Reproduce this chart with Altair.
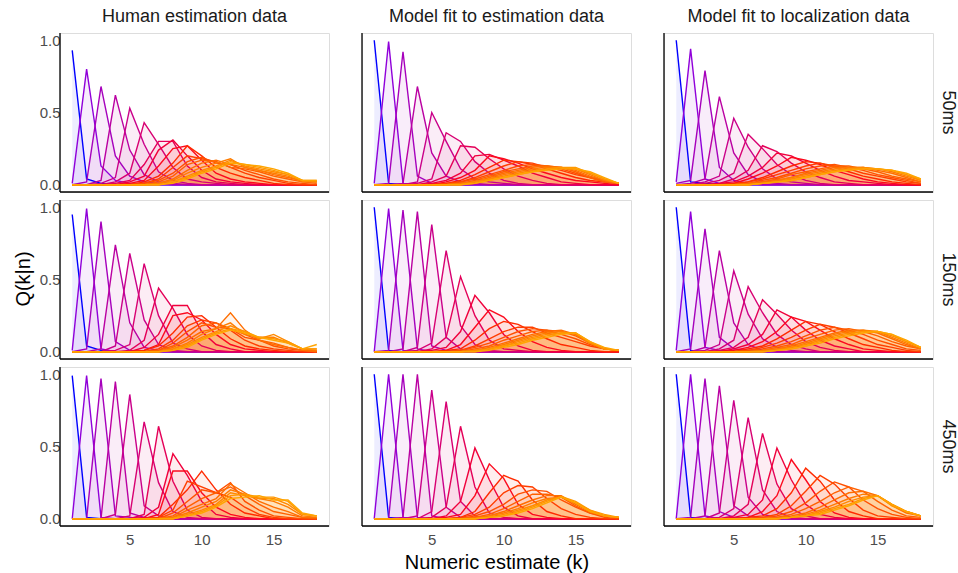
import altair as alt
import pandas as pd

K = list(range(1, 19))
N = list(range(1, 19))
panels = ["Human estimation data", "Model fit to estimation data", "Model fit to localization data"]
times = ["50ms", "150ms", "450ms"]

colors = ["#0000FF", "#9000DA", "#A600BC", "#BA00A2", "#CA008A", "#D80072", "#E40058", "#F0003C",
          "#FC0A1E", "#FF2A00", "#FF3E00", "#FF5000", "#FF6000", "#FF6E00", "#FF7C00", "#FF8A00",
          "#FF9800", "#FFA500"]

human_50ms = [
    [0.93, 0.04, 0.01, 0, 0, 0, 0, 0, 0, 0, 0, 0, 0, 0, 0, 0, 0, 0],
    [0.01, 0.80, 0.13, 0.03, 0.01, 0, 0, 0, 0, 0, 0, 0, 0, 0, 0, 0, 0, 0],
    [0, 0.02, 0.68, 0.20, 0.06, 0.02, 0.01, 0, 0, 0, 0, 0, 0, 0, 0, 0, 0, 0],
    [0, 0, 0.03, 0.62, 0.24, 0.07, 0.02, 0.01, 0, 0, 0, 0, 0, 0, 0, 0, 0, 0],
    [0, 0, 0.01, 0.05, 0.53, 0.28, 0.09, 0.03, 0.01, 0, 0, 0, 0, 0, 0, 0, 0, 0],
    [0, 0, 0, 0.02, 0.08, 0.43, 0.28, 0.12, 0.04, 0.02, 0.01, 0, 0, 0, 0, 0, 0, 0],
    [0, 0, 0, 0.01, 0.03, 0.14, 0.30, 0.30, 0.13, 0.05, 0.02, 0.01, 0, 0, 0, 0, 0, 0],
    [0, 0, 0, 0, 0.02, 0.06, 0.24, 0.31, 0.20, 0.10, 0.04, 0.02, 0.01, 0, 0, 0, 0, 0],
    [0, 0, 0, 0, 0.01, 0.03, 0.13, 0.25, 0.27, 0.17, 0.08, 0.04, 0.02, 0.01, 0, 0, 0, 0],
    [0, 0, 0, 0, 0, 0.02, 0.06, 0.15, 0.27, 0.20, 0.12, 0.08, 0.05, 0.03, 0.01, 0, 0, 0],
    [0, 0, 0, 0, 0, 0.01, 0.04, 0.12, 0.20, 0.18, 0.16, 0.12, 0.08, 0.05, 0.03, 0.01, 0, 0],
    [0, 0, 0, 0, 0, 0.01, 0.03, 0.08, 0.16, 0.19, 0.15, 0.14, 0.10, 0.07, 0.04, 0.02, 0.01, 0],
    [0, 0, 0, 0, 0, 0, 0.02, 0.06, 0.14, 0.17, 0.16, 0.12, 0.11, 0.09, 0.06, 0.04, 0.02, 0.01],
    [0, 0, 0, 0, 0, 0, 0.01, 0.04, 0.10, 0.15, 0.17, 0.14, 0.12, 0.10, 0.07, 0.05, 0.03, 0.02],
    [0, 0, 0, 0, 0, 0, 0.01, 0.03, 0.08, 0.12, 0.15, 0.18, 0.12, 0.10, 0.08, 0.06, 0.02, 0.02],
    [0, 0, 0, 0, 0, 0, 0, 0.02, 0.06, 0.10, 0.13, 0.17, 0.13, 0.11, 0.09, 0.07, 0.03, 0.02],
    [0, 0, 0, 0, 0, 0, 0, 0.02, 0.05, 0.09, 0.12, 0.16, 0.14, 0.12, 0.10, 0.07, 0.03, 0.03],
    [0, 0, 0, 0, 0, 0, 0, 0.01, 0.04, 0.08, 0.11, 0.15, 0.14, 0.13, 0.11, 0.08, 0.03, 0.03],
]

human_150ms = [
    [0.95, 0.04, 0.01, 0, 0, 0, 0, 0, 0, 0, 0, 0, 0, 0, 0, 0, 0, 0],
    [0.01, 0.99, 0.02, 0, 0, 0, 0, 0, 0, 0, 0, 0, 0, 0, 0, 0, 0, 0],
    [0, 0.02, 0.90, 0.07, 0.01, 0, 0, 0, 0, 0, 0, 0, 0, 0, 0, 0, 0, 0],
    [0, 0, 0.02, 0.74, 0.20, 0.03, 0.01, 0, 0, 0, 0, 0, 0, 0, 0, 0, 0, 0],
    [0, 0, 0, 0.04, 0.68, 0.22, 0.05, 0.01, 0, 0, 0, 0, 0, 0, 0, 0, 0, 0],
    [0, 0, 0, 0.01, 0.05, 0.61, 0.25, 0.06, 0.02, 0, 0, 0, 0, 0, 0, 0, 0, 0],
    [0, 0, 0, 0, 0.01, 0.08, 0.44, 0.30, 0.12, 0.04, 0.01, 0, 0, 0, 0, 0, 0, 0],
    [0, 0, 0, 0, 0, 0.03, 0.12, 0.32, 0.32, 0.14, 0.05, 0.02, 0, 0, 0, 0, 0, 0],
    [0, 0, 0, 0, 0, 0.01, 0.05, 0.25, 0.27, 0.22, 0.12, 0.05, 0.02, 0.01, 0, 0, 0, 0],
    [0, 0, 0, 0, 0, 0.01, 0.04, 0.13, 0.24, 0.25, 0.17, 0.09, 0.04, 0.02, 0.01, 0, 0, 0],
    [0, 0, 0, 0, 0, 0, 0.02, 0.08, 0.18, 0.22, 0.20, 0.15, 0.08, 0.04, 0.02, 0.01, 0, 0],
    [0, 0, 0, 0, 0, 0, 0.01, 0.06, 0.14, 0.20, 0.17, 0.16, 0.10, 0.08, 0.04, 0.02, 0.01, 0],
    [0, 0, 0, 0, 0, 0, 0.01, 0.04, 0.10, 0.18, 0.20, 0.16, 0.12, 0.08, 0.06, 0.03, 0.01, 0.01],
    [0, 0, 0, 0, 0, 0, 0, 0.03, 0.08, 0.14, 0.16, 0.27, 0.15, 0.08, 0.05, 0.03, 0.01, 0],
    [0, 0, 0, 0, 0, 0, 0, 0.02, 0.06, 0.12, 0.16, 0.20, 0.12, 0.10, 0.10, 0.06, 0.02, 0.01],
    [0, 0, 0, 0, 0, 0, 0, 0.02, 0.05, 0.10, 0.14, 0.18, 0.14, 0.09, 0.12, 0.07, 0.02, 0.02],
    [0, 0, 0, 0, 0, 0, 0, 0.01, 0.04, 0.09, 0.13, 0.16, 0.14, 0.10, 0.09, 0.07, 0.02, 0.02],
    [0, 0, 0, 0, 0, 0, 0, 0.01, 0.03, 0.08, 0.12, 0.15, 0.13, 0.10, 0.08, 0.06, 0.02, 0.05],
]

human_450ms = [
    [0.99, 0.01, 0, 0, 0, 0, 0, 0, 0, 0, 0, 0, 0, 0, 0, 0, 0, 0],
    [0, 0.99, 0.01, 0, 0, 0, 0, 0, 0, 0, 0, 0, 0, 0, 0, 0, 0, 0],
    [0, 0, 0.97, 0.02, 0.01, 0, 0, 0, 0, 0, 0, 0, 0, 0, 0, 0, 0, 0],
    [0, 0, 0, 0.95, 0.04, 0.01, 0, 0, 0, 0, 0, 0, 0, 0, 0, 0, 0, 0],
    [0, 0, 0, 0.03, 0.86, 0.09, 0.02, 0, 0, 0, 0, 0, 0, 0, 0, 0, 0, 0],
    [0, 0, 0, 0, 0.02, 0.67, 0.25, 0.05, 0.01, 0, 0, 0, 0, 0, 0, 0, 0, 0],
    [0, 0, 0, 0, 0, 0.03, 0.64, 0.26, 0.06, 0.01, 0, 0, 0, 0, 0, 0, 0, 0],
    [0, 0, 0, 0, 0, 0.01, 0.08, 0.45, 0.30, 0.12, 0.03, 0.01, 0, 0, 0, 0, 0, 0],
    [0, 0, 0, 0, 0, 0, 0.03, 0.33, 0.33, 0.18, 0.08, 0.03, 0.01, 0, 0, 0, 0, 0],
    [0, 0, 0, 0, 0, 0, 0.01, 0.10, 0.20, 0.33, 0.20, 0.10, 0.04, 0.02, 0, 0, 0, 0],
    [0, 0, 0, 0, 0, 0, 0.01, 0.06, 0.26, 0.22, 0.18, 0.15, 0.08, 0.03, 0.01, 0, 0, 0],
    [0, 0, 0, 0, 0, 0, 0, 0.04, 0.12, 0.20, 0.18, 0.25, 0.12, 0.06, 0.02, 0.01, 0, 0],
    [0, 0, 0, 0, 0, 0, 0, 0.02, 0.08, 0.14, 0.18, 0.22, 0.16, 0.10, 0.05, 0.03, 0.01, 0],
    [0, 0, 0, 0, 0, 0, 0, 0.01, 0.06, 0.10, 0.14, 0.24, 0.18, 0.12, 0.08, 0.05, 0.01, 0.01],
    [0, 0, 0, 0, 0, 0, 0, 0.01, 0.04, 0.08, 0.12, 0.20, 0.17, 0.14, 0.12, 0.08, 0.02, 0.01],
    [0, 0, 0, 0, 0, 0, 0, 0, 0.03, 0.06, 0.10, 0.18, 0.16, 0.14, 0.14, 0.10, 0.03, 0.02],
    [0, 0, 0, 0, 0, 0, 0, 0, 0.02, 0.05, 0.09, 0.16, 0.17, 0.15, 0.15, 0.12, 0.03, 0.02],
    [0, 0, 0, 0, 0, 0, 0, 0, 0.02, 0.04, 0.08, 0.14, 0.15, 0.16, 0.13, 0.13, 0.04, 0.02],
]

model_est_50ms = [
    [1.00, 0.01, 0, 0, 0, 0, 0, 0, 0, 0, 0, 0, 0, 0, 0, 0, 0, 0],
    [0.01, 0.99, 0.01, 0, 0, 0, 0, 0, 0, 0, 0, 0, 0, 0, 0, 0, 0, 0],
    [0, 0.01, 0.92, 0.06, 0.01, 0, 0, 0, 0, 0, 0, 0, 0, 0, 0, 0, 0, 0],
    [0, 0, 0.01, 0.68, 0.22, 0.06, 0.02, 0.01, 0, 0, 0, 0, 0, 0, 0, 0, 0, 0],
    [0, 0, 0, 0.02, 0.50, 0.30, 0.11, 0.04, 0.02, 0.01, 0, 0, 0, 0, 0, 0, 0, 0],
    [0, 0, 0, 0.01, 0.04, 0.36, 0.30, 0.16, 0.08, 0.03, 0.01, 0, 0, 0, 0, 0, 0, 0],
    [0, 0, 0, 0, 0.02, 0.06, 0.27, 0.26, 0.18, 0.11, 0.06, 0.03, 0.01, 0, 0, 0, 0, 0],
    [0, 0, 0, 0, 0.01, 0.03, 0.08, 0.20, 0.21, 0.17, 0.13, 0.08, 0.05, 0.02, 0.01, 0, 0, 0],
    [0, 0, 0, 0, 0, 0.02, 0.05, 0.10, 0.20, 0.18, 0.15, 0.11, 0.08, 0.05, 0.03, 0.02, 0.01, 0],
    [0, 0, 0, 0, 0, 0.01, 0.03, 0.07, 0.12, 0.17, 0.16, 0.14, 0.11, 0.08, 0.05, 0.03, 0.02, 0.01],
    [0, 0, 0, 0, 0, 0.01, 0.02, 0.05, 0.09, 0.13, 0.16, 0.15, 0.12, 0.10, 0.07, 0.05, 0.03, 0.01],
    [0, 0, 0, 0, 0, 0, 0.02, 0.04, 0.07, 0.10, 0.13, 0.14, 0.13, 0.11, 0.08, 0.05, 0.02, 0.01],
    [0, 0, 0, 0, 0, 0, 0.01, 0.03, 0.06, 0.09, 0.11, 0.13, 0.13, 0.12, 0.09, 0.05, 0.02, 0.01],
    [0, 0, 0, 0, 0, 0, 0.01, 0.02, 0.05, 0.08, 0.10, 0.12, 0.13, 0.12, 0.10, 0.06, 0.03, 0.01],
    [0, 0, 0, 0, 0, 0, 0.01, 0.02, 0.04, 0.07, 0.09, 0.11, 0.12, 0.12, 0.11, 0.07, 0.03, 0.01],
    [0, 0, 0, 0, 0, 0, 0, 0.02, 0.04, 0.06, 0.08, 0.10, 0.11, 0.12, 0.11, 0.08, 0.04, 0.01],
    [0, 0, 0, 0, 0, 0, 0, 0.01, 0.03, 0.05, 0.07, 0.09, 0.11, 0.12, 0.12, 0.08, 0.04, 0.01],
    [0, 0, 0, 0, 0, 0, 0, 0.01, 0.03, 0.05, 0.07, 0.09, 0.10, 0.11, 0.11, 0.09, 0.05, 0.01],
]

model_est_150ms = [
    [1.00, 0.01, 0, 0, 0, 0, 0, 0, 0, 0, 0, 0, 0, 0, 0, 0, 0, 0],
    [0, 0.99, 0.01, 0, 0, 0, 0, 0, 0, 0, 0, 0, 0, 0, 0, 0, 0, 0],
    [0, 0.01, 0.98, 0.02, 0, 0, 0, 0, 0, 0, 0, 0, 0, 0, 0, 0, 0, 0],
    [0, 0, 0.02, 0.97, 0.04, 0.01, 0, 0, 0, 0, 0, 0, 0, 0, 0, 0, 0, 0],
    [0, 0, 0, 0.03, 0.88, 0.10, 0.02, 0, 0, 0, 0, 0, 0, 0, 0, 0, 0, 0],
    [0, 0, 0, 0.01, 0.06, 0.70, 0.18, 0.05, 0.01, 0, 0, 0, 0, 0, 0, 0, 0, 0],
    [0, 0, 0, 0, 0.02, 0.10, 0.52, 0.25, 0.08, 0.02, 0.01, 0, 0, 0, 0, 0, 0, 0],
    [0, 0, 0, 0, 0.01, 0.03, 0.14, 0.39, 0.27, 0.12, 0.04, 0.01, 0, 0, 0, 0, 0, 0],
    [0, 0, 0, 0, 0, 0.01, 0.05, 0.17, 0.29, 0.24, 0.14, 0.07, 0.03, 0.01, 0, 0, 0, 0],
    [0, 0, 0, 0, 0, 0.01, 0.02, 0.08, 0.16, 0.21, 0.19, 0.14, 0.09, 0.05, 0.03, 0.01, 0, 0],
    [0, 0, 0, 0, 0, 0, 0.01, 0.04, 0.09, 0.14, 0.17, 0.17, 0.13, 0.10, 0.07, 0.04, 0.02, 0.01],
    [0, 0, 0, 0, 0, 0, 0.01, 0.03, 0.06, 0.10, 0.14, 0.16, 0.15, 0.12, 0.09, 0.05, 0.02, 0.01],
    [0, 0, 0, 0, 0, 0, 0, 0.02, 0.04, 0.08, 0.11, 0.14, 0.15, 0.14, 0.11, 0.06, 0.02, 0.01],
    [0, 0, 0, 0, 0, 0, 0, 0.01, 0.03, 0.06, 0.09, 0.12, 0.14, 0.15, 0.12, 0.06, 0.02, 0.01],
    [0, 0, 0, 0, 0, 0, 0, 0.01, 0.02, 0.05, 0.08, 0.11, 0.13, 0.14, 0.12, 0.06, 0.02, 0.01],
    [0, 0, 0, 0, 0, 0, 0, 0.01, 0.02, 0.04, 0.07, 0.10, 0.12, 0.13, 0.13, 0.06, 0.02, 0.01],
    [0, 0, 0, 0, 0, 0, 0, 0, 0.02, 0.04, 0.06, 0.09, 0.11, 0.13, 0.13, 0.07, 0.02, 0.01],
    [0, 0, 0, 0, 0, 0, 0, 0, 0.01, 0.03, 0.05, 0.08, 0.10, 0.12, 0.13, 0.07, 0.03, 0.01],
]

model_est_450ms = [
    [1.00, 0.01, 0, 0, 0, 0, 0, 0, 0, 0, 0, 0, 0, 0, 0, 0, 0, 0],
    [0, 1.00, 0.01, 0, 0, 0, 0, 0, 0, 0, 0, 0, 0, 0, 0, 0, 0, 0],
    [0, 0, 1.00, 0.01, 0, 0, 0, 0, 0, 0, 0, 0, 0, 0, 0, 0, 0, 0],
    [0, 0, 0.01, 1.00, 0.02, 0, 0, 0, 0, 0, 0, 0, 0, 0, 0, 0, 0, 0],
    [0, 0, 0, 0.02, 0.89, 0.08, 0.01, 0, 0, 0, 0, 0, 0, 0, 0, 0, 0, 0],
    [0, 0, 0, 0, 0.05, 0.81, 0.12, 0.02, 0, 0, 0, 0, 0, 0, 0, 0, 0, 0],
    [0, 0, 0, 0, 0.01, 0.08, 0.64, 0.22, 0.04, 0.01, 0, 0, 0, 0, 0, 0, 0, 0],
    [0, 0, 0, 0, 0, 0.02, 0.12, 0.49, 0.27, 0.08, 0.02, 0, 0, 0, 0, 0, 0, 0],
    [0, 0, 0, 0, 0, 0.01, 0.03, 0.16, 0.38, 0.28, 0.10, 0.03, 0.01, 0, 0, 0, 0, 0],
    [0, 0, 0, 0, 0, 0, 0.01, 0.05, 0.18, 0.30, 0.26, 0.13, 0.05, 0.02, 0, 0, 0, 0],
    [0, 0, 0, 0, 0, 0, 0.01, 0.03, 0.08, 0.18, 0.23, 0.22, 0.14, 0.07, 0.03, 0.01, 0, 0],
    [0, 0, 0, 0, 0, 0, 0, 0.02, 0.05, 0.10, 0.17, 0.20, 0.19, 0.13, 0.08, 0.04, 0.01, 0],
    [0, 0, 0, 0, 0, 0, 0, 0.01, 0.03, 0.07, 0.12, 0.17, 0.17, 0.15, 0.09, 0.04, 0.02, 0.01],
    [0, 0, 0, 0, 0, 0, 0, 0.01, 0.02, 0.05, 0.09, 0.13, 0.16, 0.16, 0.10, 0.05, 0.02, 0.01],
    [0, 0, 0, 0, 0, 0, 0, 0, 0.02, 0.04, 0.07, 0.11, 0.14, 0.15, 0.11, 0.05, 0.02, 0.01],
    [0, 0, 0, 0, 0, 0, 0, 0, 0.01, 0.03, 0.06, 0.09, 0.13, 0.15, 0.11, 0.06, 0.02, 0.01],
    [0, 0, 0, 0, 0, 0, 0, 0, 0.01, 0.02, 0.05, 0.08, 0.12, 0.155, 0.12, 0.06, 0.03, 0.01],
    [0, 0, 0, 0, 0, 0, 0, 0, 0.01, 0.02, 0.04, 0.07, 0.11, 0.15, 0.11, 0.05, 0.02, 0.01],
]

model_loc_50ms = [
    [1.00, 0.02, 0.01, 0, 0, 0, 0, 0, 0, 0, 0, 0, 0, 0, 0, 0, 0, 0],
    [0.02, 0.94, 0.04, 0.01, 0, 0, 0, 0, 0, 0, 0, 0, 0, 0, 0, 0, 0, 0],
    [0.01, 0.03, 0.79, 0.12, 0.03, 0.01, 0, 0, 0, 0, 0, 0, 0, 0, 0, 0, 0, 0],
    [0, 0.01, 0.04, 0.61, 0.22, 0.07, 0.02, 0.01, 0, 0, 0, 0, 0, 0, 0, 0, 0, 0],
    [0, 0, 0.02, 0.06, 0.46, 0.26, 0.11, 0.04, 0.02, 0.01, 0, 0, 0, 0, 0, 0, 0, 0],
    [0, 0, 0.01, 0.03, 0.08, 0.35, 0.25, 0.14, 0.07, 0.03, 0.01, 0, 0, 0, 0, 0, 0, 0],
    [0, 0, 0, 0.01, 0.04, 0.10, 0.27, 0.23, 0.15, 0.09, 0.05, 0.02, 0.01, 0, 0, 0, 0, 0],
    [0, 0, 0, 0.01, 0.02, 0.06, 0.12, 0.22, 0.20, 0.15, 0.10, 0.06, 0.03, 0.02, 0.01, 0, 0, 0],
    [0, 0, 0, 0, 0.01, 0.04, 0.08, 0.13, 0.19, 0.17, 0.14, 0.10, 0.07, 0.04, 0.02, 0.01, 0, 0],
    [0, 0, 0, 0, 0.01, 0.02, 0.05, 0.09, 0.13, 0.16, 0.15, 0.12, 0.09, 0.06, 0.04, 0.02, 0.01, 0],
    [0, 0, 0, 0, 0, 0.02, 0.04, 0.07, 0.10, 0.13, 0.15, 0.13, 0.11, 0.08, 0.06, 0.04, 0.02, 0.01],
    [0, 0, 0, 0, 0, 0.01, 0.03, 0.05, 0.08, 0.11, 0.13, 0.14, 0.12, 0.10, 0.07, 0.05, 0.03, 0.01],
    [0, 0, 0, 0, 0, 0.01, 0.02, 0.04, 0.07, 0.09, 0.11, 0.13, 0.13, 0.11, 0.09, 0.06, 0.04, 0.02],
    [0, 0, 0, 0, 0, 0.01, 0.02, 0.03, 0.05, 0.08, 0.10, 0.12, 0.12, 0.12, 0.10, 0.08, 0.05, 0.02],
    [0, 0, 0, 0, 0, 0, 0.01, 0.03, 0.05, 0.07, 0.09, 0.11, 0.12, 0.12, 0.11, 0.09, 0.06, 0.03],
    [0, 0, 0, 0, 0, 0, 0.01, 0.02, 0.04, 0.06, 0.08, 0.10, 0.11, 0.12, 0.11, 0.10, 0.07, 0.03],
    [0, 0, 0, 0, 0, 0, 0.01, 0.02, 0.03, 0.05, 0.07, 0.09, 0.11, 0.11, 0.11, 0.10, 0.07, 0.04],
    [0, 0, 0, 0, 0, 0, 0.01, 0.02, 0.03, 0.05, 0.07, 0.09, 0.10, 0.11, 0.11, 0.10, 0.08, 0.04],
]

model_loc_150ms = [
    [1.00, 0.01, 0, 0, 0, 0, 0, 0, 0, 0, 0, 0, 0, 0, 0, 0, 0, 0],
    [0.01, 0.97, 0.03, 0.01, 0, 0, 0, 0, 0, 0, 0, 0, 0, 0, 0, 0, 0, 0],
    [0, 0.02, 0.85, 0.10, 0.02, 0.01, 0, 0, 0, 0, 0, 0, 0, 0, 0, 0, 0, 0],
    [0, 0, 0.03, 0.70, 0.20, 0.05, 0.01, 0, 0, 0, 0, 0, 0, 0, 0, 0, 0, 0],
    [0, 0, 0.01, 0.05, 0.56, 0.26, 0.09, 0.03, 0.01, 0, 0, 0, 0, 0, 0, 0, 0, 0],
    [0, 0, 0, 0.02, 0.08, 0.45, 0.27, 0.12, 0.05, 0.02, 0, 0, 0, 0, 0, 0, 0, 0],
    [0, 0, 0, 0.01, 0.03, 0.10, 0.36, 0.26, 0.15, 0.07, 0.03, 0.01, 0, 0, 0, 0, 0, 0],
    [0, 0, 0, 0, 0.02, 0.05, 0.12, 0.29, 0.24, 0.15, 0.08, 0.04, 0.02, 0, 0, 0, 0, 0],
    [0, 0, 0, 0, 0.01, 0.03, 0.07, 0.14, 0.24, 0.21, 0.15, 0.09, 0.05, 0.02, 0.01, 0, 0, 0],
    [0, 0, 0, 0, 0, 0.02, 0.04, 0.09, 0.15, 0.21, 0.19, 0.14, 0.09, 0.05, 0.03, 0.01, 0, 0],
    [0, 0, 0, 0, 0, 0.01, 0.03, 0.06, 0.10, 0.15, 0.19, 0.17, 0.13, 0.09, 0.05, 0.03, 0.01, 0],
    [0, 0, 0, 0, 0, 0.01, 0.02, 0.04, 0.07, 0.11, 0.15, 0.17, 0.15, 0.12, 0.08, 0.05, 0.02, 0.01],
    [0, 0, 0, 0, 0, 0, 0.01, 0.03, 0.05, 0.09, 0.12, 0.15, 0.16, 0.14, 0.11, 0.07, 0.04, 0.02],
    [0, 0, 0, 0, 0, 0, 0.01, 0.02, 0.04, 0.07, 0.10, 0.13, 0.15, 0.15, 0.13, 0.09, 0.05, 0.02],
    [0, 0, 0, 0, 0, 0, 0.01, 0.02, 0.03, 0.06, 0.09, 0.12, 0.14, 0.15, 0.14, 0.10, 0.06, 0.02],
    [0, 0, 0, 0, 0, 0, 0, 0.01, 0.03, 0.05, 0.08, 0.11, 0.13, 0.14, 0.14, 0.11, 0.07, 0.03],
    [0, 0, 0, 0, 0, 0, 0, 0.01, 0.02, 0.04, 0.07, 0.10, 0.12, 0.14, 0.14, 0.12, 0.07, 0.03],
    [0, 0, 0, 0, 0, 0, 0, 0.01, 0.02, 0.04, 0.06, 0.09, 0.11, 0.13, 0.14, 0.12, 0.08, 0.03],
]

model_loc_450ms = [
    [1.00, 0.01, 0, 0, 0, 0, 0, 0, 0, 0, 0, 0, 0, 0, 0, 0, 0, 0],
    [0, 1.00, 0.02, 0, 0, 0, 0, 0, 0, 0, 0, 0, 0, 0, 0, 0, 0, 0],
    [0, 0.01, 0.97, 0.05, 0.01, 0, 0, 0, 0, 0, 0, 0, 0, 0, 0, 0, 0, 0],
    [0, 0, 0.02, 0.92, 0.09, 0.02, 0, 0, 0, 0, 0, 0, 0, 0, 0, 0, 0, 0],
    [0, 0, 0, 0.04, 0.82, 0.15, 0.03, 0.01, 0, 0, 0, 0, 0, 0, 0, 0, 0, 0],
    [0, 0, 0, 0.01, 0.07, 0.70, 0.20, 0.05, 0.01, 0, 0, 0, 0, 0, 0, 0, 0, 0],
    [0, 0, 0, 0, 0.02, 0.10, 0.59, 0.24, 0.07, 0.02, 0, 0, 0, 0, 0, 0, 0, 0],
    [0, 0, 0, 0, 0.01, 0.03, 0.13, 0.49, 0.27, 0.10, 0.03, 0.01, 0, 0, 0, 0, 0, 0],
    [0, 0, 0, 0, 0, 0.01, 0.05, 0.16, 0.41, 0.27, 0.12, 0.04, 0.01, 0, 0, 0, 0, 0],
    [0, 0, 0, 0, 0, 0.01, 0.02, 0.07, 0.18, 0.35, 0.26, 0.13, 0.05, 0.02, 0, 0, 0, 0],
    [0, 0, 0, 0, 0, 0, 0.01, 0.03, 0.09, 0.19, 0.30, 0.24, 0.14, 0.06, 0.02, 0.01, 0, 0],
    [0, 0, 0, 0, 0, 0, 0.01, 0.02, 0.05, 0.11, 0.19, 0.255, 0.22, 0.13, 0.07, 0.03, 0.01, 0],
    [0, 0, 0, 0, 0, 0, 0, 0.01, 0.03, 0.07, 0.12, 0.18, 0.22, 0.19, 0.12, 0.06, 0.02, 0.01],
    [0, 0, 0, 0, 0, 0, 0, 0.01, 0.02, 0.04, 0.08, 0.13, 0.18, 0.19, 0.16, 0.09, 0.04, 0.02],
    [0, 0, 0, 0, 0, 0, 0, 0, 0.01, 0.03, 0.06, 0.10, 0.14, 0.17, 0.16, 0.10, 0.05, 0.02],
    [0, 0, 0, 0, 0, 0, 0, 0, 0.01, 0.02, 0.05, 0.08, 0.12, 0.15, 0.16, 0.10, 0.05, 0.02],
    [0, 0, 0, 0, 0, 0, 0, 0, 0.01, 0.02, 0.04, 0.07, 0.10, 0.14, 0.16, 0.09, 0.05, 0.02],
    [0, 0, 0, 0, 0, 0, 0, 0, 0.01, 0.02, 0.03, 0.06, 0.09, 0.13, 0.16, 0.10, 0.05, 0.02],
]

tables = {
    (panels[0], times[0]): human_50ms,
    (panels[0], times[1]): human_150ms,
    (panels[0], times[2]): human_450ms,
    (panels[1], times[0]): model_est_50ms,
    (panels[1], times[1]): model_est_150ms,
    (panels[1], times[2]): model_est_450ms,
    (panels[2], times[0]): model_loc_50ms,
    (panels[2], times[1]): model_loc_150ms,
    (panels[2], times[2]): model_loc_450ms,
}

rows = []
for (p, t), mat in tables.items():
    for n, vals in zip(N, mat):
        for k, q in zip(K, vals):
            rows.append({"panel": p, "time": t, "n": n, "k": k, "q": q})
df = pd.DataFrame(rows)

W, H = 269, 159
FONT = "Liberation Sans"

x_enc = alt.X("k:Q", scale=alt.Scale(domain=[0.15, 18.85], nice=False, zero=False),
              axis=alt.Axis(values=[5, 10, 15], title=None, grid=False,
                            ticks=False, tickSize=0, domain=False, labelPadding=4, labelFontSize=15,
                            labelColor="#4D4D4D", labelFont=FONT))
y_enc = alt.Y("q:Q", stack=None, scale=alt.Scale(domain=[-0.05, 1.05], nice=False, zero=False),
              axis=alt.Axis(values=[0, 0.5, 1.0], format=".1f", title=None, grid=False,
                            ticks=False, tickSize=0, domain=False, labelPadding=-2, labelFontSize=15,
                            labelColor="#4D4D4D", labelFont=FONT))
color_enc = alt.Color("n:O", scale=alt.Scale(domain=N, range=colors), legend=None)

base = alt.Chart().encode(x=x_enc, y=y_enc, color=color_enc, detail="n:O")
area = base.mark_area(opacity=0.07, line=False)
line = base.mark_line(strokeWidth=1.4)
corner = alt.Chart().transform_filter("datum.n == 1 && datum.k == 1")
left_rule = corner.mark_rule(color="#000000", strokeWidth=1.3).encode(
    x=alt.value(0), y=alt.value(0), y2=alt.value(H))
bottom_rule = corner.mark_rule(color="#000000", strokeWidth=1.3).encode(
    x=alt.value(0), x2=alt.value(W), y=alt.value(H))

layered = alt.layer(area, line, left_rule, bottom_rule).properties(width=W, height=H)

chart = layered.facet(
    data=df,
    column=alt.Column("panel:N", sort=panels,
                      header=alt.Header(title="Numeric estimate (k)", titleOrient="bottom",
                                        titleFontSize=20, titleColor="#000000",
                                        titleFontWeight="normal", titleFont=FONT, titlePadding=-4,
                                        labelFontSize=18, labelColor="#1A1A1A",
                                        labelFont=FONT, labelPadding=5)),
    row=alt.Row("time:N", sort=times,
                header=alt.Header(title="Q(k|n)", titleOrient="left", titleAngle=-90,
                                  titleFontSize=20, titleColor="#000000",
                                  titleFontWeight="normal", titleFont=FONT, titlePadding=-25,
                                  labelFontSize=18, labelColor="#1A1A1A",
                                  labelFont=FONT, labelOrient="right", labelAngle=90,
                                  labelPadding=4)),
    spacing={"row": 4, "column": 29},
).configure_view(stroke="#A6A6A6", strokeWidth=1).configure(
    padding={"left": 14, "top": 8, "right": 0, "bottom": 0}
)

chart.save("out.html", embed_options={"renderer": "svg", "actions": False})
